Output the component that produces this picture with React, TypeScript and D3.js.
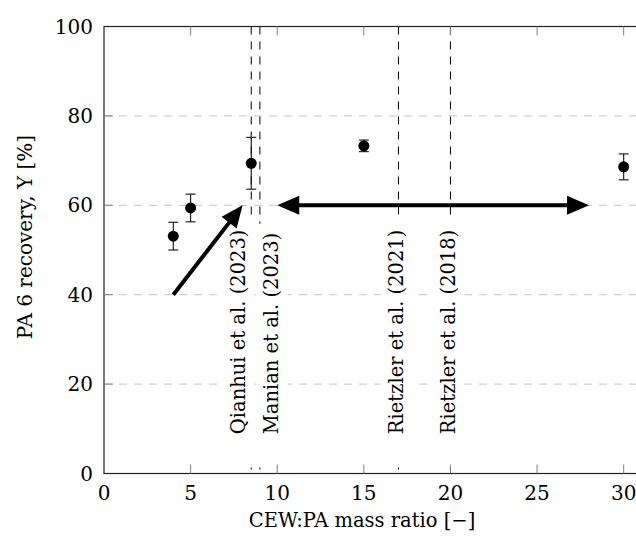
import React, { useEffect, useRef } from 'react'
import * as d3 from 'd3'

// measured points (mass ratio vs recovery) with +/- error
const ratios = [4, 5, 8.5, 15, 30]
const recovery = [53.1, 59.4, 69.4, 73.3, 68.6]
const errors = [3.1, 3.1, 5.8, 1.3, 2.9]

// literature reference ratios
const refRatios = [8.5, 9, 17, 20]
const refLabels = ['Qianhui et al. (2023)', 'Manian et al. (2023)', 'Rietzler et al. (2021)', 'Rietzler et al. (2018)']
const refShift = [-13, 12, -2, -2]

const xTicks = [0, 5, 10, 15, 20, 25, 30]
const yTicks = [0, 20, 40, 60, 80, 100]
const yGrid = [20, 40, 60, 80]

// annotation arrows in data coords
const arrowUp = [[4, 40], [8, 60]]
const arrowSpan = [[10, 60], [28, 60]]

const W = 636
const H = 541
const font = 'DejaVu Serif'

export default function App () {
  const ref = useRef<SVGSVGElement>(null)
  useEffect(() => {
    if (ref.current) drawChart(ref.current)
  }, [])
  return (
    <svg ref={ref} width={W} height={H}
      style={{ position: 'absolute', left: 0, top: 0, background: '#fff' }} />
  )
}

function arrow (g, p0, p1, both) {
  const head = 22
  const hw = 9.5
  const dx = p1[0] - p0[0]
  const dy = p1[1] - p0[1]
  const len = Math.sqrt(dx * dx + dy * dy)
  const ux = dx / len
  const uy = dy / len
  const nx = -uy
  const ny = ux
  const s0 = both ? [p0[0] + ux * (head - 2), p0[1] + uy * (head - 2)] : p0
  const s1 = [p1[0] - ux * (head - 2), p1[1] - uy * (head - 2)]
  g.append('line')
    .attr('x1', s0[0]).attr('y1', s0[1]).attr('x2', s1[0]).attr('y2', s1[1])
    .attr('stroke', '#000').attr('stroke-width', 4)
  const tri = (tip, dirx, diry) => {
    const bx = tip[0] - dirx * head
    const by = tip[1] - diry * head
    return `M${tip[0]},${tip[1]}L${bx + nx * hw},${by + ny * hw}L${bx - nx * hw},${by - ny * hw}Z`
  }
  g.append('path').attr('d', tri(p1, ux, uy)).attr('fill', '#000')
  if (both) g.append('path').attr('d', tri(p0, -ux, -uy)).attr('fill', '#000')
}

function drawChart (node) {
  const svg = d3.select(node)
  svg.selectAll('*').remove()

  const x = d3.scaleLinear().domain([0, 31]).range([104, 641])
  const y = d3.scaleLinear().domain([0, 100]).range([473.5, 26.5])
  const [x0, x1] = x.range()
  const [yb, yt] = y.range()

  // grid
  svg.append('g').selectAll('line').data(yGrid).join('line')
    .attr('x1', x0).attr('x2', x1)
    .attr('y1', d => y(d)).attr('y2', d => y(d))
    .attr('stroke', '#c4c4c4').attr('stroke-width', 1).attr('stroke-dasharray', '8,7')

  // reference lines
  svg.append('g').selectAll('line').data(refRatios).join('line')
    .attr('x1', d => x(d)).attr('x2', d => x(d))
    .attr('y1', yt).attr('y2', yb)
    .attr('stroke', '#000').attr('stroke-width', 1).attr('stroke-dasharray', '8,7')

  // reference labels on white boxes
  refRatios.forEach((r, i) => {
    const g = svg.append('g')
      .attr('transform', `translate(${x(r) + refShift[i]},${y(8.8)}) rotate(-90)`)
    const t = g.append('text').text(refLabels[i])
      .attr('dominant-baseline', 'central')
      .attr('font-family', font).attr('font-size', 19.5).attr('fill', '#000')
    const bb = t.node().getBBox()
    const start = yb - 6 - y(8.8)
    g.insert('rect', 'text')
      .attr('x', bb.x - start).attr('width', bb.width + start + 9)
      .attr('y', -16).attr('height', 32).attr('fill', '#fff')
  })

  // frame
  svg.append('rect')
    .attr('x', x0).attr('y', yt).attr('width', x1 - x0).attr('height', yb - yt)
    .attr('fill', 'none').attr('stroke', '#222').attr('stroke-width', 1.2)

  // ticks
  const tk = svg.append('g').attr('stroke', '#808080').attr('stroke-width', 1)
  tk.selectAll('.xb').data(xTicks.slice(1)).join('line')
    .attr('x1', d => x(d)).attr('x2', d => x(d)).attr('y1', yb).attr('y2', yb - 9)
  tk.selectAll('.xt').data(xTicks.slice(1)).join('line')
    .attr('x1', d => x(d)).attr('x2', d => x(d)).attr('y1', yt).attr('y2', yt + 9)
  tk.selectAll('.yl').data(yTicks.slice(1, -1)).join('line')
    .attr('x1', x0).attr('x2', x0 + 9).attr('y1', d => y(d)).attr('y2', d => y(d))

  // tick labels
  svg.append('g').selectAll('text').data(xTicks).join('text')
    .attr('x', d => x(d)).attr('y', 500).attr('text-anchor', 'middle')
    .attr('font-family', font).attr('font-size', 20).text(d => d)
  svg.append('g').selectAll('text').data(yTicks).join('text')
    .attr('x', 93).attr('y', d => y(d)).attr('text-anchor', 'end')
    .attr('dominant-baseline', 'central')
    .attr('font-family', font).attr('font-size', 20).text(d => d)

  // axis labels
  svg.append('text').attr('x', 362).attr('y', 527).attr('text-anchor', 'middle')
    .attr('font-family', font).attr('font-size', 19.5).text('CEW:PA mass ratio [\u2212]')
  svg.append('text').attr('transform', 'translate(25,237) rotate(-90)')
    .attr('text-anchor', 'middle').attr('dominant-baseline', 'central')
    .attr('font-family', font).attr('font-size', 20).text('PA 6 recovery, Y [%]')

  // error bars + points
  const pts = ratios.map((r, i) => ({ r, v: recovery[i], e: errors[i] }))
  const eb = svg.append('g').attr('stroke', '#111').attr('stroke-width', 1.1)
  eb.selectAll('.v').data(pts).join('line')
    .attr('x1', d => x(d.r)).attr('x2', d => x(d.r))
    .attr('y1', d => y(d.v - d.e)).attr('y2', d => y(d.v + d.e))
  eb.selectAll('.lo').data(pts).join('line')
    .attr('x1', d => x(d.r) - 5).attr('x2', d => x(d.r) + 5)
    .attr('y1', d => y(d.v - d.e)).attr('y2', d => y(d.v - d.e))
  eb.selectAll('.hi').data(pts).join('line')
    .attr('x1', d => x(d.r) - 5).attr('x2', d => x(d.r) + 5)
    .attr('y1', d => y(d.v + d.e)).attr('y2', d => y(d.v + d.e))
  svg.append('g').selectAll('circle').data(pts).join('circle')
    .attr('cx', d => x(d.r)).attr('cy', d => y(d.v)).attr('r', 5.5).attr('fill', '#000')

  // arrows
  const ag = svg.append('g')
  arrow(ag, [x(arrowUp[0][0]), y(arrowUp[0][1])], [x(arrowUp[1][0]), y(arrowUp[1][1])], false)
  arrow(ag, [x(arrowSpan[0][0]), y(arrowSpan[0][1])], [x(arrowSpan[1][0]), y(arrowSpan[1][1])], true)
}
